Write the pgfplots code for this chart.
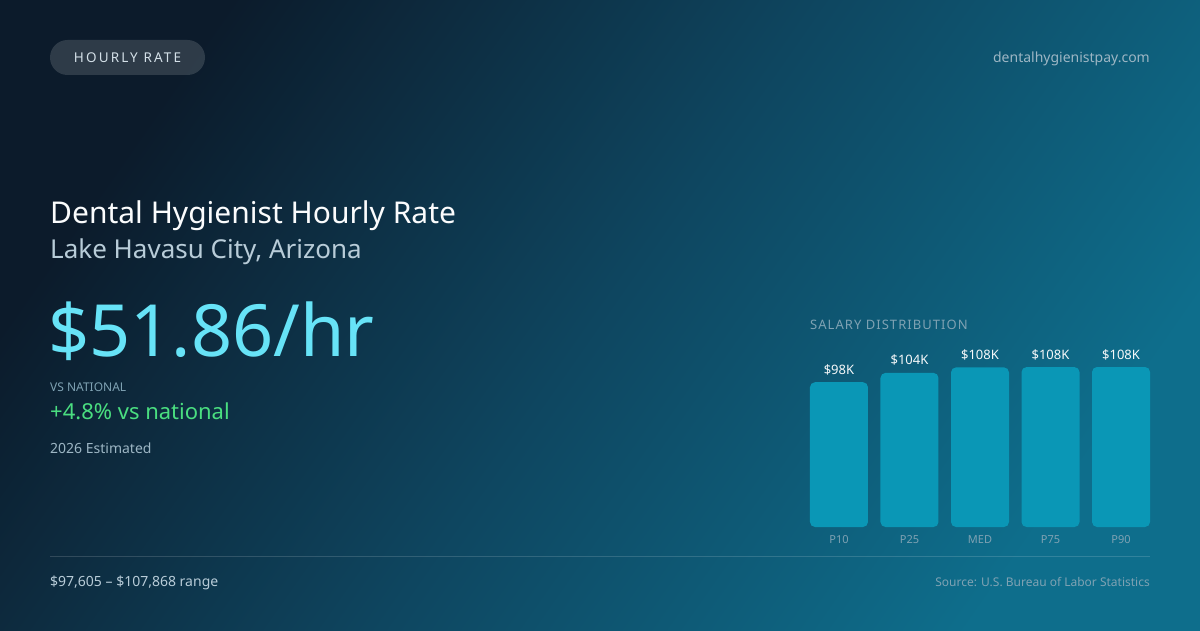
\documentclass[border=0pt]{standalone}
\usepackage{pgfplots}
\pgfplotsset{compat=1.18}
\usepackage{fontspec}
\setmainfont{Noto Sans}
\usetikzlibrary{shadings}

\definecolor{bgdark}{HTML}{0C1B2B}
\definecolor{bgmid}{HTML}{0E4660}
\definecolor{bglight}{HTML}{0E6E8C}
\definecolor{barfill}{HTML}{0A97B6}
\definecolor{bigcyan}{HTML}{67E3F7}
\definecolor{subtxt}{HTML}{B8CCD8}
\definecolor{mutetxt}{HTML}{9DB6C4}
\definecolor{dimtxt}{HTML}{7FA2B3}
\definecolor{greentxt}{HTML}{4ADE80}

\newcommand{\fs}[1]{\fontsize{#1}{#1}\selectfont}

\begin{document}
\begin{tikzpicture}[x=1pt,y=1pt]
  % background
  \shade[shading=axis, top color=bgdark, bottom color=bglight, middle color=bgmid, shading angle=55]
    (0,0) rectangle (1200,630);

  % pill
  \fill[white, opacity=0.14, rounded corners=17.5pt] (50,555) rectangle (205,590);
  \node[text=subtxt!60!white, inner sep=0] at (127.5,572.5)
    {\fs{13.5}\addfontfeature{LetterSpace=16}HOURLY RATE};
  \node[anchor=base east, text=mutetxt, inner sep=0] at (1150,567)
    {\fs{14}dentalhygienistpay.com};

  % headline text
  \node[anchor=base west, text=white!95!subtxt, inner sep=0] at (50,406)
    {\fs{30}Dental Hygienist Hourly Rate};
  \node[anchor=base west, text=subtxt, inner sep=0] at (50,371)
    {\fs{26}Lake Havasu City, Arizona};
  \node[anchor=base west, text=bigcyan, inner sep=0] at (48,273)
    {\fs{72}\$51.86/hr};
  \node[anchor=base west, text=dimtxt, inner sep=0] at (50,238)
    {\fs{12}VS NATIONAL};
  \node[anchor=base west, text=greentxt, inner sep=0] at (50,210)
    {\fs{22}+4.8\% vs national};
  \node[anchor=base west, text=mutetxt, inner sep=0] at (50,176)
    {\fs{14}2026 Estimated};

  % footer
  \draw[white, opacity=0.15, line width=1pt] (50,74) -- (1150,74);
  \node[anchor=base west, text=subtxt, inner sep=0] at (50,44)
    {\fs{14}\$97,605 – \$107,868 range};
  \node[anchor=base east, text=dimtxt, inner sep=0] at (1150,44)
    {\fs{12}Source: U.S. Bureau of Labor Statistics};

  % chart title
  \node[anchor=base west, text=dimtxt, inner sep=0] at (810,300)
    {\fs{13}\addfontfeature{LetterSpace=8}SALARY DISTRIBUTION};

  \begin{axis}[
      at={(810pt,103pt)}, anchor=south west,
      scale only axis,
      width=340pt, height=160pt,
      xmin=-0.411, xmax=4.411,
      ymin=0, ymax=107.868,
      axis line style={draw=none},
      major tick length=0pt,
      ytick=\empty,
      xtick={0,1,2,3,4},
      xticklabels={P10,P25,MED,P75,P90},
      xticklabel style={font=\fs{11}, text=dimtxt, inner sep=0pt, anchor=north, yshift=-8pt},
      clip=false,
      ybar, bar width=58pt,
      point meta=explicit symbolic,
      nodes near coords,
      every node near coord/.append style={font=\fs{13}, text=white!88!subtxt, anchor=base, inner sep=0pt, yshift=8pt},
    ]
    \addplot[fill=barfill, draw=none, rounded corners=5pt] coordinates {
      (0,97.605) [\$98K]
      (1,103.9) [\$104K]
      (2,107.6) [\$108K]
      (3,107.8) [\$108K]
      (4,107.868) [\$108K]
    };
  \end{axis}
\end{tikzpicture}
\end{document}
